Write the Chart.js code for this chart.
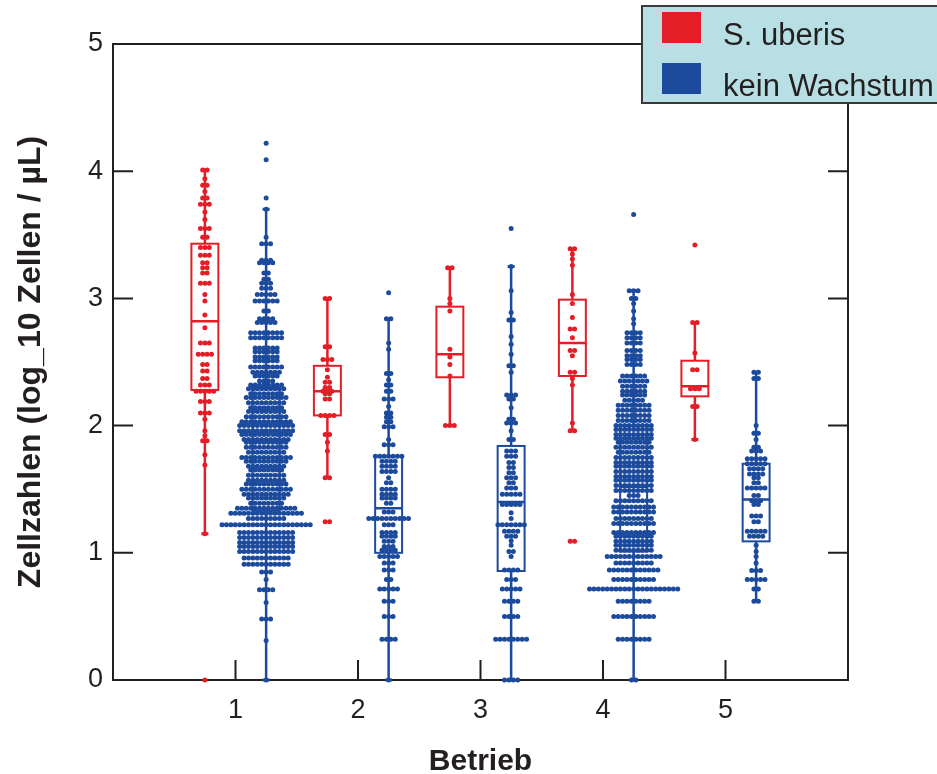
<!DOCTYPE html>
<html lang="de">
<head>
<meta charset="UTF-8">
<title>Zellzahlen nach Betrieb</title>
<script src="https://cdn.jsdelivr.net/npm/chart.js"></script>
<style>
  html, body { margin: 0; padding: 0; background: #fff; }
  #wrap { position: relative; width: 937px; height: 774px; }
</style>
</head>
<body>
<div id="wrap"><canvas id="zellChart"></canvas></div>
<script>
// x axis categories and y ticks
const betriebe = ['1', '2', '3', '4', '5'];
const yTicks = [0, 1, 2, 3, 4, 5];
const seriesNames = ['S. uberis', 'kein Wachstum'];

// beeswarm rows: [log10 Zellen/µL, number of samples at that level]
const uberis1 = [[4.01,2],[3.94,1],[3.89,2],[3.84,1],[3.79,2],[3.74,3],[3.68,1],[3.62,1],[3.55,3],[3.48,2],[3.40,3],[3.34,3],[3.28,2],[3.24,2],[3.20,2],[3.12,3],[3.03,1],[2.98,1],[2.87,1],[2.77,1],[2.65,3],[2.56,4],[2.48,2],[2.43,2],[2.37,2],[2.32,3],[2.27,5],[2.19,3],[2.10,3],[2.05,1],[1.96,1],[1.92,1],[1.88,2],[1.77,1],[1.69,1],[1.15,1],[0,1]];
const uberis2 = [[3.00,2],[2.62,2],[2.52,3],[2.44,1],[2.38,1],[2.34,2],[2.30,2],[2.27,3],[2.25,2],[2.21,2],[2.08,4],[1.93,2],[1.87,1],[1.80,1],[1.59,2],[1.245,2]];
const uberis3 = [[3.24,2],[3.00,1],[2.96,1],[2.90,1],[2.60,1],[2.54,1],[2.48,1],[2.39,1],[2.00,3]];
const uberis4 = [[3.39,2],[3.35,1],[3.31,1],[3.26,1],[3.03,1],[2.96,1],[2.85,1],[2.76,2],[2.69,1],[2.59,2],[2.55,1],[2.42,2],[2.37,1],[2.32,1],[2.02,1],[1.96,2],[1.09,2]];
const uberis5 = [[3.42,1],[2.81,2],[2.57,1],[2.44,2],[2.29,3],[2.15,2],[1.89,1]];

const kein1 = [[4.22,1],[4.09,1],[3.79,1],[3.70,1],[3.48,1],[3.43,3],[3.30,3],[3.28,4],[3.20,2],[3.15,2],[3.12,3],[3.08,3],[3.03,5],[2.98,6],[2.90,2],[2.84,4],[2.81,5],[2.73,8],[2.69,8],[2.61,6],[2.58,6],[2.54,6],[2.51,6],[2.46,8],[2.42,7],[2.39,6],[2.35,4],[2.32,8],[2.29,9],[2.25,8],[2.22,10],[2.18,9],[2.14,8],[2.11,9],[2.07,10],[2.03,12],[2.00,13],[1.96,13],[1.93,12],[1.89,11],[1.87,10],[1.83,10],[1.79,9],[1.75,12],[1.72,10],[1.68,9],[1.65,8],[1.61,9],[1.57,9],[1.54,10],[1.50,12],[1.46,11],[1.43,9],[1.39,8],[1.35,14],[1.31,17],[1.27,9],[1.22,21],[1.16,13],[1.12,13],[1.08,13],[1.05,13],[1.01,13],[0.96,11],[0.91,11],[0.85,3],[0.79,1],[0.71,4],[0.61,1],[0.48,3],[0.31,1],[0,1]];
const kein2 = [[3.045,1],[2.84,2],[2.65,1],[2.60,1],[2.41,2],[2.36,1],[2.32,2],[2.27,2],[2.21,3],[2.15,1],[2.10,2],[2.065,2],[2.03,2],[1.99,3],[1.89,1],[1.85,3],[1.76,7],[1.72,4],[1.68,4],[1.64,4],[1.59,1],[1.55,2],[1.50,4],[1.46,4],[1.43,4],[1.39,2],[1.32,3],[1.27,10],[1.22,3],[1.16,4],[1.13,4],[1.09,3],[1.05,3],[1.02,4],[0.97,5],[0.92,3],[0.865,3],[0.79,2],[0.715,5],[0.62,3],[0.50,3],[0.32,4],[0,1]];
const kein3 = [[3.55,1],[3.25,1],[3.06,1],[2.89,1],[2.83,2],[2.70,1],[2.64,1],[2.56,1],[2.47,2],[2.42,1],[2.24,3],[2.21,2],[2.14,1],[2.05,2],[2.02,3],[1.96,1],[1.89,2],[1.80,3],[1.76,3],[1.71,2],[1.67,2],[1.63,2],[1.59,3],[1.55,2],[1.51,3],[1.46,5],[1.38,5],[1.315,1],[1.27,1],[1.22,7],[1.17,4],[1.13,3],[1.095,1],[1.06,1],[1.01,2],[0.97,1],[0.865,4],[0.79,3],[0.715,5],[0.62,4],[0.50,4],[0.32,8],[0,4]];
const kein4 = [[3.66,1],[3.06,3],[3.00,2],[2.96,1],[2.90,1],[2.84,1],[2.80,1],[2.73,4],[2.69,4],[2.65,4],[2.59,4],[2.55,4],[2.52,4],[2.48,4],[2.39,6],[2.35,7],[2.31,6],[2.27,6],[2.24,6],[2.20,5],[2.16,8],[2.12,8],[2.08,8],[2.04,8],[2.00,9],[1.97,9],[1.93,9],[1.90,9],[1.87,8],[1.83,9],[1.79,8],[1.75,9],[1.71,9],[1.68,9],[1.64,9],[1.60,9],[1.57,9],[1.53,9],[1.49,9],[1.45,3],[1.41,9],[1.36,10],[1.32,10],[1.27,9],[1.23,10],[1.16,10],[1.13,9],[1.09,9],[1.06,9],[1.02,9],[0.97,13],[0.92,9],[0.865,12],[0.79,10],[0.715,21],[0.62,8],[0.50,10],[0.32,8],[0,2]];
const kein5 = [[2.42,2],[2.37,2],[2.00,1],[1.94,2],[1.89,1],[1.83,2],[1.80,3],[1.74,5],[1.70,5],[1.66,4],[1.62,4],[1.59,2],[1.55,2],[1.51,5],[1.45,2],[1.41,3],[1.38,2],[1.29,3],[1.245,2],[1.17,5],[1.13,4],[1.06,1],[1.01,1],[0.97,1],[0.92,1],[0.86,3],[0.79,5],[0.715,2],[0.62,2]];

// box plot statistics, one value per Betrieb
const uberisLow    = [1.15, 1.59, 2.00, 1.96, 1.89];
const uberisQ1     = [2.28, 2.08, 2.38, 2.39, 2.23];
const uberisMedian = [2.82, 2.27, 2.56, 2.65, 2.31];
const uberisQ3     = [3.43, 2.47, 2.935, 2.99, 2.51];
const uberisHigh   = [4.01, 3.00, 3.24, 3.39, 2.81];

const keinLow    = [0, 0, 0, 0, 0.62];
const keinQ1     = [1.33, 1.00, 0.857, 1.01, 1.09];
const keinMedian = [1.79, 1.35, 1.40, 1.52, 1.42];
const keinQ3     = [2.30, 1.76, 1.84, 2.00, 1.70];
const keinHigh   = [3.70, 2.84, 3.25, 3.06, 2.42];

const RED = '#e31e26';
const BLUE = '#1c4a9c';
const INK = '#231f20';
const FONT = "'Liberation Sans', Arial, Helvetica, sans-serif";

const groupShift = 0.25;   // red left of the tick, blue right of it
const dotStep = 0.036;     // distance between neighbouring dots in a row
const boxHalf = 0.11;
const tickLen = 20;

// lay out one beeswarm: each row centred on the group position
function swarm(rows, center) {
    const pts = [];
    rows.forEach(([v, n]) => {
        for (let i = 0; i < n; i++) {
            pts.push({ x: center + (i - (n - 1) / 2) * dotStep, y: v });
        }
    });
    return pts;
}

const groups = [
    { name: seriesNames[0], color: RED, shift: -groupShift, rows: [uberis1, uberis2, uberis3, uberis4, uberis5],
      low: uberisLow, q1: uberisQ1, med: uberisMedian, q3: uberisQ3, high: uberisHigh },
    { name: seriesNames[1], color: BLUE, shift: groupShift, rows: [kein1, kein2, kein3, kein4, kein5],
      low: keinLow, q1: keinQ1, med: keinMedian, q3: keinQ3, high: keinHigh }
];

const datasets = [];
groups.forEach(g => {
    g.rows.forEach((rows, i) => {
        datasets.push({
            label: g.name + ' ' + betriebe[i],
            data: swarm(rows, i + 1 + g.shift),
            backgroundColor: g.color,
            borderWidth: 0,
            pointRadius: 2.5,
            pointHoverRadius: 2.5,
            clip: false
        });
    });
});

// boxes, whiskers and caps
const boxPlot = {
    id: 'boxPlot',
    afterDatasetsDraw(chart) {
        const { ctx, scales: { x, y } } = chart;
        ctx.save();
        groups.forEach(g => {
            ctx.strokeStyle = g.color;
            g.med.forEach((m, i) => {
                const c = i + 1 + g.shift;
                const cx = x.getPixelForValue(c);
                const l = x.getPixelForValue(c - boxHalf);
                const r = x.getPixelForValue(c + boxHalf);
                const yq1 = y.getPixelForValue(g.q1[i]);
                const yq3 = y.getPixelForValue(g.q3[i]);
                const ym = y.getPixelForValue(m);
                const ylo = y.getPixelForValue(g.low[i]);
                const yhi = y.getPixelForValue(g.high[i]);

                ctx.lineWidth = 2;
                ctx.strokeRect(l, yq3, r - l, yq1 - yq3);

                ctx.lineWidth = 2.5;
                ctx.beginPath();
                ctx.moveTo(l, ym); ctx.lineTo(r, ym);
                ctx.moveTo(cx, yq3); ctx.lineTo(cx, yhi);
                ctx.moveTo(cx, yq1); ctx.lineTo(cx, ylo);
                ctx.stroke();

                ctx.lineWidth = 3;
                ctx.beginPath();
                ctx.moveTo(cx - 3.5, yhi); ctx.lineTo(cx + 3.5, yhi);
                ctx.moveTo(cx - 3.5, ylo); ctx.lineTo(cx + 3.5, ylo);
                ctx.stroke();
            });
        });
        ctx.restore();
    }
};

// top/right frame, inward ticks on left, right and bottom
const frame = {
    id: 'frame',
    afterDraw(chart) {
        const { ctx, chartArea: a, scales: { x, y } } = chart;
        ctx.save();
        ctx.strokeStyle = INK;
        ctx.lineWidth = 2;
        ctx.beginPath();
        ctx.moveTo(a.left, a.top); ctx.lineTo(a.right, a.top); ctx.lineTo(a.right, a.bottom);
        yTicks.forEach(v => {
            const py = y.getPixelForValue(v);
            ctx.moveTo(a.left, py); ctx.lineTo(a.left + tickLen, py);
            ctx.moveTo(a.right, py); ctx.lineTo(a.right - tickLen, py);
        });
        betriebe.forEach((b, i) => {
            const px = x.getPixelForValue(i + 1);
            ctx.moveTo(px, a.bottom); ctx.lineTo(px, a.bottom - tickLen);
        });
        ctx.stroke();
        ctx.restore();
    }
};

// legend box in the top right corner
const legendBox = {
    id: 'legendBox',
    afterDraw(chart) {
        const { ctx } = chart;
        ctx.save();
        ctx.fillStyle = '#b8e0e4';
        ctx.strokeStyle = '#3a3a3a';
        ctx.lineWidth = 2;
        ctx.fillRect(642, 6, 310, 97);
        ctx.strokeRect(642, 6, 310, 97);
        ctx.font = '31px ' + FONT;
        ctx.textBaseline = 'alphabetic';
        groups.forEach((g, i) => {
            const top = 12 + i * 51;
            ctx.fillStyle = g.color;
            ctx.fillRect(662, top, 39, 31);
            ctx.fillStyle = INK;
            ctx.fillText(g.name, 723, top + 33);
        });
        ctx.restore();
    }
};

new Chart(document.getElementById('zellChart'), {
    type: 'scatter',
    data: { datasets },
    plugins: [boxPlot, frame, legendBox],
    options: {
        responsive: true,
        maintainAspectRatio: false,
        animation: false,
        events: [],
        layout: { padding: { left: 0, top: 44, right: 89, bottom: 0 } },
        plugins: {
            legend: { display: false },
            tooltip: { enabled: false }
        },
        scales: {
            x: {
                type: 'linear',
                min: 0,
                max: 6,
                afterFit: s => { s.height = 94; },
                grid: { display: false, drawTicks: false },
                border: { display: true, color: INK, width: 2 },
                ticks: {
                    stepSize: 1,
                    padding: 14,
                    color: INK,
                    font: { family: FONT, size: 27 },
                    callback: v => (v >= 1 && v <= betriebe.length) ? betriebe[v - 1] : ''
                },
                title: {
                    display: true,
                    text: 'Betrieb',
                    color: INK,
                    font: { family: FONT, size: 30, weight: 'bold', lineHeight: 0.8 },
                    padding: { top: 0, bottom: 0 }
                }
            },
            y: {
                min: 0,
                max: 5,
                afterFit: s => { s.width = 113; },
                grid: { display: false, drawTicks: false },
                border: { display: true, color: INK, width: 2 },
                ticks: {
                    stepSize: 1,
                    padding: 10,
                    color: INK,
                    font: { family: FONT, size: 27 }
                },
                title: {
                    display: true,
                    text: 'Zellzahlen (log_10 Zellen / µL)',
                    color: INK,
                    font: { family: FONT, size: 32, weight: 'bold', lineHeight: 1 },
                    padding: { top: 15, bottom: 0 }
                }
            }
        }
    }
});
</script>
</body>
</html>
